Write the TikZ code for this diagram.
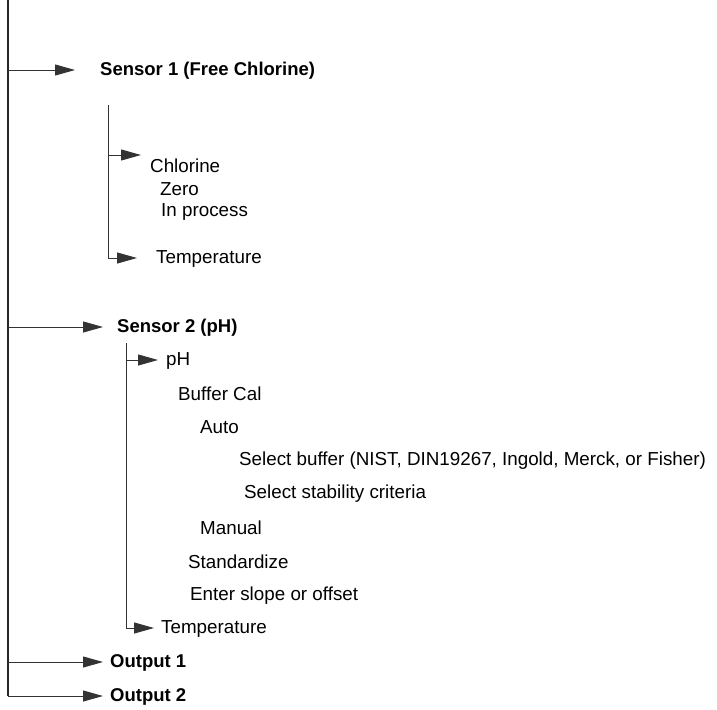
\documentclass[tikz,border=0pt]{standalone}
\usepackage{fontspec}
\setmainfont{Liberation Sans}
\usetikzlibrary{arrows.meta}

\begin{document}
\begin{tikzpicture}[x=1pt,y=-1pt,>={Triangle[length=20pt,width=11pt]},
  every node/.style={anchor=west,inner sep=0pt,font=\fontsize{18.8}{22}\selectfont},
  head/.style={font=\fontsize{18.5}{22}\selectfont\bfseries},
  trunk/.style={line width=1.4pt,black!85},
  twig/.style={line width=1pt,black!80}]
\useasboundingbox (0,0) rectangle (717,709);

\coordinate (T0) at (8,0);
\coordinate (T1) at (8,70);
\coordinate (T2) at (8,327);
\coordinate (T3) at (8,662);
\coordinate (T4) at (8,696);
\coordinate (A1) at (75,70);
\coordinate (A2) at (103,327);
\coordinate (A3) at (103,662);
\coordinate (A4) at (103,696);

\node[head] (S1) at (100,71) {Sensor 1 (Free Chlorine)};
\node[head] (S2) at (117,328) {Sensor 2 (pH)};
\node[head] (O1) at (110,663) {Output 1};
\node[head] (O2) at (110,697) {Output 2};

% sensor 1
\coordinate (B0) at (108,105);
\coordinate (B1) at (108,155);
\coordinate (B2) at (108,258);
\coordinate (C1) at (141,155);
\coordinate (C2) at (137,258);
\node (cl) at (150,166) {Chlorine};
\node (zero) at (160,189) {Zero};
\node (inp) at (161,212) {In process};
\node (t1) at (156,259) {Temperature};

% sensor 2
\coordinate (D0) at (126,343);
\coordinate (D1) at (126,360);
\coordinate (D2) at (126,628);
\coordinate (E1) at (158,360);
\coordinate (E2) at (154,628);
\node (ph) at (166,361) {pH};
\node (buf) at (178,394) {Buffer Cal};
\node (auto) at (200,427) {Auto};
\node (sel) at (239,461) {Select buffer (NIST, DIN19267, Ingold, Merck, or Fisher)};
\node (stab) at (244,494) {Select stability criteria};
\node (man) at (200,528) {Manual};
\node (std) at (188,562) {Standardize};
\node (slope) at (190,596) {Enter slope or offset};
\node (t2) at (161,629) {Temperature};

\draw[trunk] (T0) -- (T4);
\draw[->,twig] (T1) -- (A1);
\draw[->,twig] (T2) -- (A2);
\draw[->,twig] (T3) -- (A3);
\draw[->,twig] (T4) -- (A4);

\draw[twig] (B0) -- (B2);
\draw[->,twig] (B1) -- (C1);
\draw[->,twig] (B2) -- (C2);

\draw[twig] (D0) -- (D2);
\draw[->,twig] (D1) -- (E1);
\draw[->,twig] (D2) -- (E2);
\end{tikzpicture}
\end{document}
